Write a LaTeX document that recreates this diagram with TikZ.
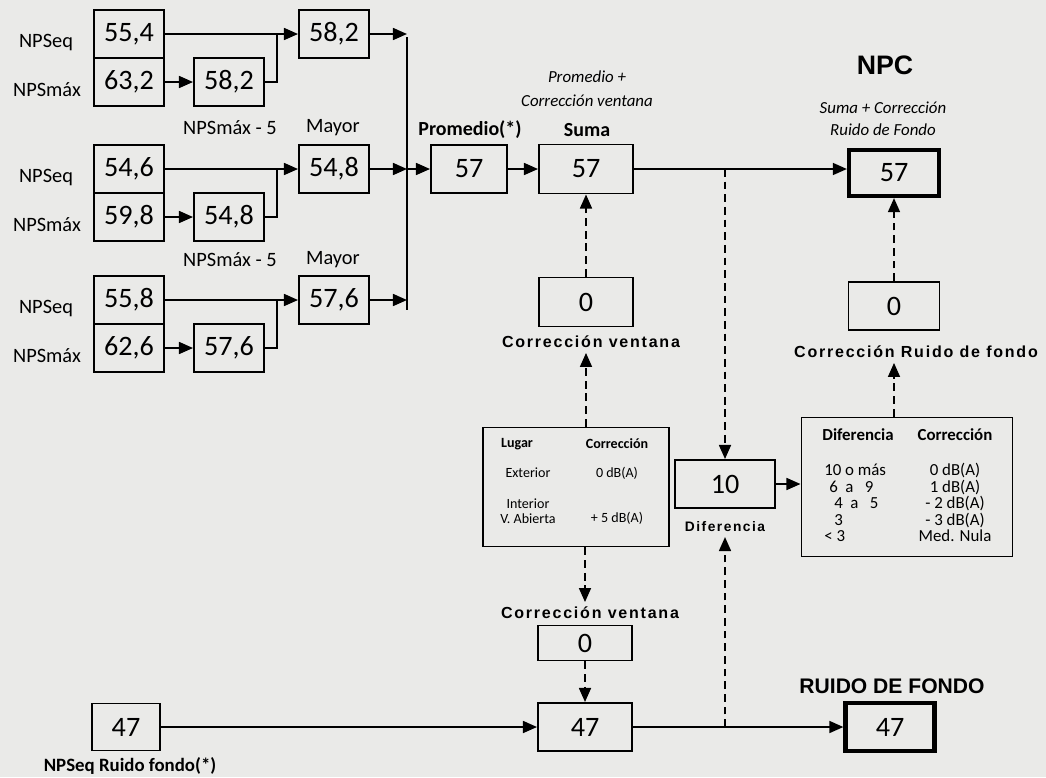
\documentclass[tikz,border=0pt]{standalone}
\usepackage{fontspec}
\setmainfont{Carlito}
\newfontfamily\arialfont{Liberation Sans}
\newfontfamily\spacedfont[LetterSpace=11]{Liberation Sans}
\usetikzlibrary{arrows.meta}
\newcommand{\pxu}{0.025cm}
\definecolor{paper}{RGB}{234,234,232}
\tikzset{
  numbox/.style={draw, line width=1.4pt, minimum width=70*\pxu, minimum height=48*\pxu,
    inner sep=0pt, font=\fontsize{20}{22}\selectfont},
  heavybox/.style={numbox, line width=3pt},
  lbl/.style={font=\fontsize{14.5}{16}\selectfont},
  boldlbl/.style={font=\bfseries\fontsize{14.2}{16}\selectfont},
  itlbl/.style={font=\itshape\fontsize{12}{17}\selectfont, align=center},
  spacedlbl/.style={font=\spacedfont\bfseries\fontsize{11.4}{13}\selectfont},
  titlelbl/.style={font=\arialfont\bfseries\fontsize{19}{21}\selectfont},
  tabtxt/.style={font=\fontsize{10}{11}\selectfont, inner sep=0pt},
  difftxt/.style={font=\fontsize{12}{13}\selectfont, inner sep=0pt},
  flow/.style={-{Triangle[length=10pt,width=8.5pt]}, line width=1.3pt},
  dflow/.style={flow, dash pattern=on 5.5pt off 3.5pt},
}
\begin{document}
\begin{tikzpicture}[x=\pxu, y=-\pxu]
  \fill[paper] (0,0) rectangle (1046,777);
  \useasboundingbox (0,0) rectangle (1046,777);
  % Three measurement groups
  \foreach \g/\ya/\yb/\eq/\mx/\rd in {1/34/82/{55,4}/{63,2}/{58,2}, 2/169/217/{54,6}/{59,8}/{54,8}, 3/300/348/{55,8}/{62,6}/{57,6}}{
    \node[numbox] (eq\g) at (129,\ya) {\eq};
    \node[numbox] (mx\g) at (129,\yb) {\mx};
    \node[numbox] (rd\g) at (229,\yb) {\rd};
    \node[numbox] (my\g) at (334,\ya) {\rd};
    \node[lbl] (eql\g) at (46,\ya+9) {NPSeq};
    \node[lbl] (mxl\g) at (47,\yb+8) {NPSmáx};
    \coordinate (j\g) at (277,\ya);
    \coordinate (c\g) at (407,\ya);
    \draw[flow] (eq\g.east) -- (my\g.west);
    \draw[flow] (mx\g.east) -- (rd\g.west);
    \draw[line width=1.3pt] (rd\g.east) -| (j\g);
    \draw[flow] (my\g.east) -- (c\g);
  }
  \foreach \g/\y in {2/128, 3/260}{
    \node[lbl] (rdl\g) at (230,\y) {NPSmáx - 5};
    \node[lbl] (myl\g) at (333,\y) {Mayor};
  }
  % Collector and average
  \coordinate (ctop) at (407,37);
  \coordinate (cbot) at (407,310);
  \draw[line width=1.3pt] (ctop) -- (cbot);
  \node[numbox, minimum width=76*\pxu] (prom) at (469,169) {57};
  \node[boldlbl] (proml) at (470,130) {Promedio(*)};
  \node[numbox, minimum width=94*\pxu, minimum height=49*\pxu] (suma) at (586,169) {57};
  \node[boldlbl] (sumal) at (587,130) {Suma};
  \node[itlbl] (sumait) at (587,89) {Promedio +\\Corrección ventana};
  \draw[flow] (c2) -- (prom.west);
  \draw[flow] (prom.east) -- (suma.west);
  % Window correction
  \node[numbox, minimum width=94*\pxu, minimum height=49*\pxu] (cv1) at (586,302) {0};
  \node[spacedlbl] (cvl1) at (591,342) {Corrección ventana};
  \draw[dflow] (cv1.north) -- (suma.south);
  \node[draw, line width=1.4pt, minimum width=186*\pxu, minimum height=119*\pxu] (lug) at (576,487) {};
  \node[tabtxt, font=\bfseries\fontsize{10}{11}\selectfont] (lug1) at (517,444) {Lugar};
  \node[tabtxt, font=\bfseries\fontsize{10}{11}\selectfont] (lug2) at (617,444) {Corrección};
  \node[tabtxt] (lug3) at (528,473) {Exterior};
  \node[tabtxt] (lug4) at (617,473) {0 dB(A)};
  \node[tabtxt, align=center] (lug5) at (528,511) {Interior\\V. Abierta};
  \node[tabtxt] (lug6) at (617,518) {+ 5 dB(A)};
  \draw[dflow] (lug.north -| cv1) -- (cv1 |- cvl1.south);
  \node[spacedlbl] (cvl2) at (590,613) {Corrección ventana};
  \node[numbox, minimum width=94*\pxu, minimum height=35*\pxu] (cv2) at (585,643) {0};
  \draw[dflow] (lug.south -| cv2) -- (cv2 |- cvl2.north);
  % Background noise
  \node[numbox, minimum width=68*\pxu, minimum height=47*\pxu] (bg) at (126,727) {47};
  \node[boldlbl, font=\bfseries\fontsize{13.4}{15}\selectfont] (bgl) at (130,766) {NPSeq Ruido fondo(*)};
  \node[numbox, minimum width=94*\pxu] (bgs) at (585,727) {47};
  \node[heavybox, minimum width=89*\pxu] (ruido) at (890,727) {47};
  \node[titlelbl, font=\arialfont\bfseries\fontsize{15}{17}\selectfont] (ruidol) at (892,686) {RUIDO DE FONDO};
  \draw[flow] (bg.east) -- (bgs.west);
  \draw[flow] (bgs.east) -- (ruido.west);
  \draw[dflow] (cv2.south) -- (bgs.north);
  % Difference
  \node[numbox, minimum width=100*\pxu] (dif) at (725,484) {10};
  \node[spacedlbl, font=\spacedfont\bfseries\fontsize{9.8}{11}\selectfont] (difl) at (725,527) {Diferencia};
  \coordinate (dtop) at (725,169);
  \coordinate (dbot) at (725,727);
  \draw[dflow] (dtop) -- (dif.north);
  \draw[dflow] (dbot) -- (difl.south);
  \node[draw, line width=1.4pt, minimum width=211*\pxu, minimum height=139*\pxu] (tab) at (907,487) {};
  \node[difftxt, font=\bfseries\fontsize{12}{13}\selectfont] (tab1) at (858,435) {Diferencia};
  \node[difftxt, font=\bfseries\fontsize{12}{13}\selectfont] (tab2) at (955,435) {Corrección};
  \foreach \x/\y/\a/\b in {824/470/{10 o más}/{0 dB(A)}, 829/487/{6\ \ a\ \ \ 9}/{1 dB(A)},
      834/503/{4\ \ a\ \ \ 5}/{- 2 dB(A)}, 834/520/{3}/{- 3 dB(A)}, 824/536/{< 3}/{Med. Nula}}{
    \node[difftxt, anchor=west] (dl\y) at (\x,\y) {\a};
    \node[difftxt] (dr\y) at (955,\y) {\b};
  }
  \draw[flow] (dif.east) -- (dif.east -| tab.west);
  % Final level
  \node[heavybox, minimum width=90*\pxu, minimum height=46*\pxu] (npc) at (894,173) {57};
  \node[titlelbl] (npcl) at (885,65) {NPC};
  \node[itlbl, font=\itshape\fontsize{12}{15.6}\selectfont] (npcit) at (883,119) {Suma + Corrección\\Ruido de Fondo};
  \draw[flow] (suma.east) -- (suma.east -| npc.west);
  \node[numbox, minimum width=91*\pxu] (rf0) at (894,306) {0};
  \node[spacedlbl] (rfl) at (916,352) {Corrección Ruido de fondo};
  \draw[dflow] (rf0.north) -- (npc.south);
  \draw[dflow] (tab.north -| rf0) -- (rf0 |- rfl.south);
\end{tikzpicture}
\end{document}
